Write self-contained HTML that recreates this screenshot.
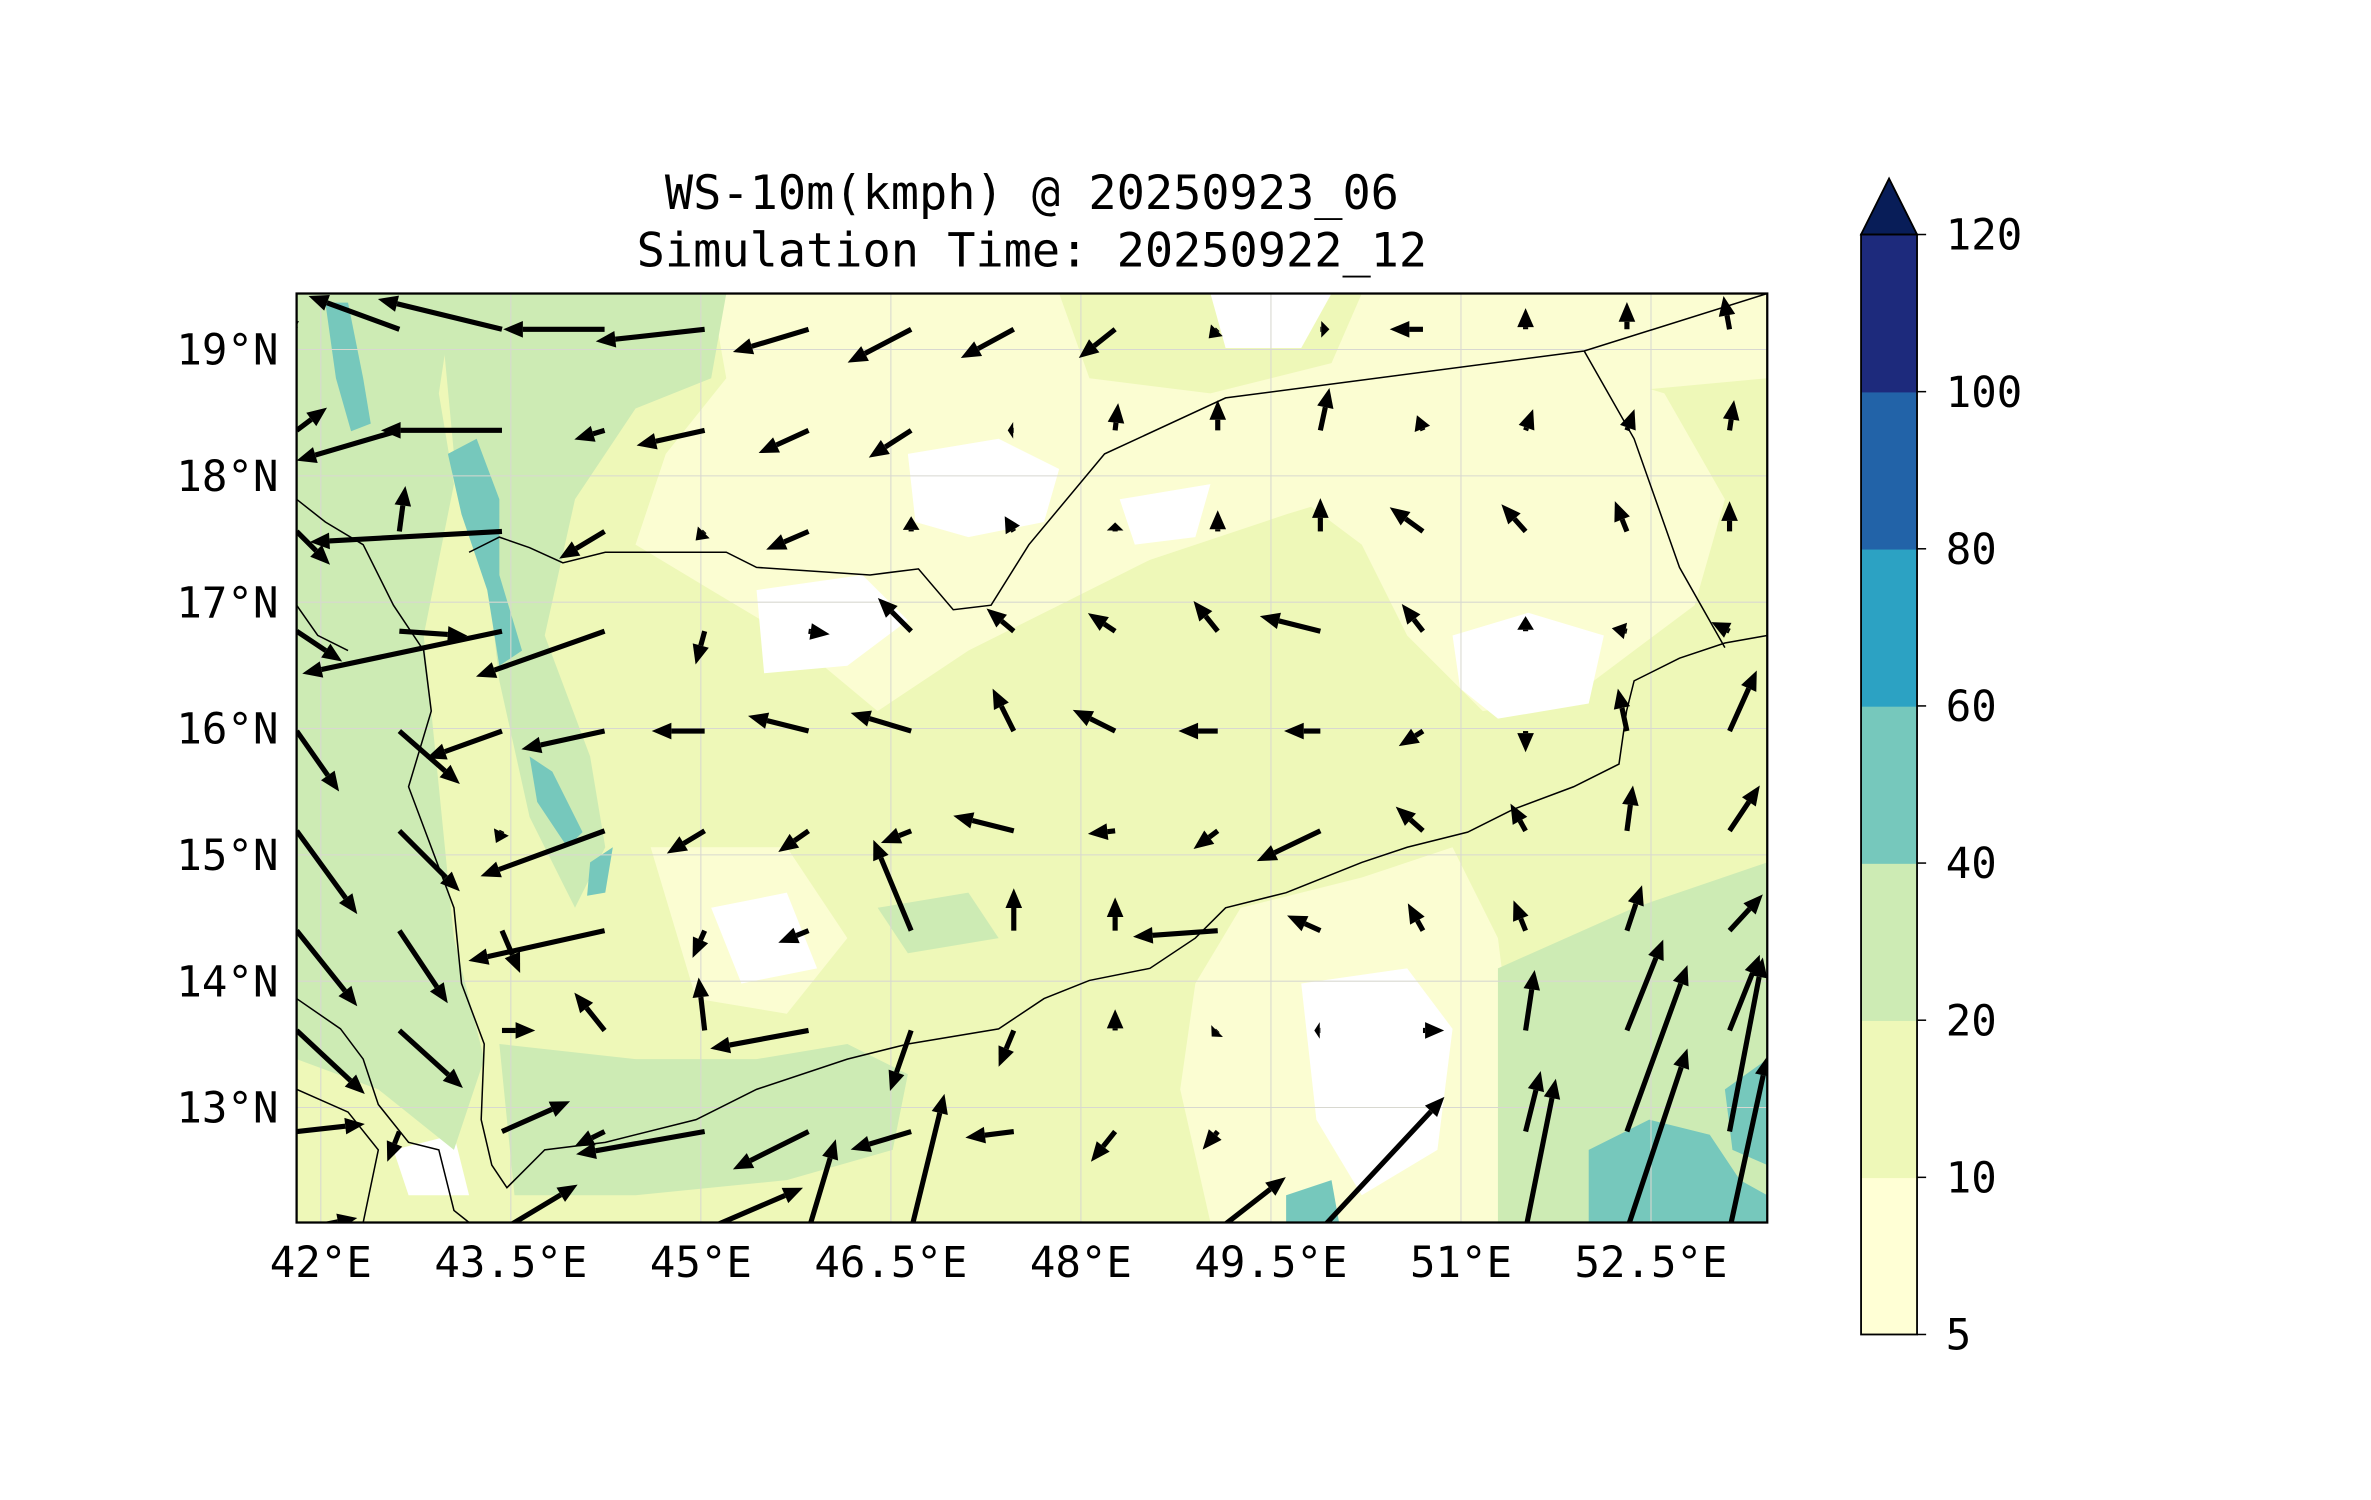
<!DOCTYPE html>
<html><head><meta charset="utf-8"><style>
html,body{margin:0;padding:0;background:#fff;}
svg{display:block;}
text{font-family:"DejaVu Sans Mono","Liberation Mono",monospace;fill:#000;}
</style></head><body>
<svg id="fig" width="2371" height="1500" viewBox="0 0 1567 991.4" xmlns="http://www.w3.org/2000/svg">
<defs><clipPath id="clip"><rect x="196" y="194" width="972" height="614"/></clipPath></defs>
<text x="682" y="138" font-size="31" text-anchor="middle">WS-10m(kmph) @ 20250923_06</text>
<text x="682" y="176" font-size="31" text-anchor="middle">Simulation Time: 20250922_12</text>
<g clip-path="url(#clip)">
 <rect x="196" y="194" width="972" height="614" fill="#fbfdd2"/>
 <g fill="#eef8b8">
  <path d="M196 194 L470 194 L480 250 L440 300 L420 360 L470 390 L520 420 L580 470 L640 430 L700 400 L760 370 L850 340 L980 300 L1060 260 L1168 250 L1168 808 L196 808 Z"/>
  <path d="M700 194 L900 194 L880 240 L800 260 L720 250 Z"/>
 </g>
 <g fill="#fbfdd2">
  <path d="M560 280 L700 260 L760 290 L740 340 L660 360 L600 380 L540 380 Z"/>
  <path d="M860 250 L1000 230 L1100 260 L1140 330 L1120 400 L1040 460 L980 470 L930 420 L900 360 L860 330 Z"/>
  <path d="M820 600 L900 580 L960 560 L990 620 L1000 700 L990 808 L800 808 L780 720 L790 650 Z"/>
  <path d="M430 560 L520 560 L560 620 L520 670 L460 660 Z"/>
 </g>
 <g fill="#ffffff">
  <path d="M600 300 L660 290 L700 310 L690 345 L640 355 L605 345 Z"/>
  <path d="M500 390 L570 380 L600 410 L560 440 L505 445 Z"/>
  <path d="M800 194 L880 194 L860 230 L810 230 Z"/>
  <path d="M960 420 L1010 405 L1060 420 L1050 465 L990 475 L965 455 Z"/>
  <path d="M860 650 L930 640 L960 680 L950 760 L900 790 L870 740 Z"/>
  <path d="M470 600 L520 590 L540 640 L490 650 Z"/>
  <path d="M740 330 L800 320 L790 355 L750 360 Z"/>
  <path d="M260 760 L300 750 L310 790 L270 790 Z"/>
 </g>
 <g fill="#cdebb4">
  <path d="M196 194 L300 194 L290 260 L300 320 L280 420 L290 520 L300 620 L320 700 L300 760 L250 720 L196 700 Z"/>
  <path d="M290 194 L480 194 L470 250 L420 270 L380 330 L360 420 L390 500 L400 560 L380 600 L350 540 L330 450 L320 360 L300 300 Z"/>
  <path d="M330 690 L420 700 L500 700 L560 690 L600 710 L590 760 L520 780 L420 790 L340 790 Z"/>
  <path d="M990 640 L1080 600 L1168 570 L1168 808 L990 808 Z"/>
  <path d="M580 600 L640 590 L660 620 L600 630 Z"/>
 </g>
 <g fill="#76c8bc">
  <path d="M215 200 L230 200 L240 250 L245 280 L232 285 L222 250 Z"/>
  <path d="M296 300 L315 290 L330 330 L330 380 L345 430 L330 440 L322 390 L305 340 Z"/>
  <path d="M350 500 L365 510 L385 550 L375 560 L355 530 Z"/>
  <path d="M390 570 L405 560 L400 590 L388 592 Z"/>
  <path d="M1050 760 L1090 740 L1130 750 L1150 780 L1168 790 L1168 808 L1050 808 Z"/>
  <path d="M1140 720 L1168 700 L1168 770 L1145 760 Z"/>
  <path d="M850 790 L880 780 L885 808 L850 808 Z"/>
 </g>
 <g id="gridlines" stroke="#d8d8d0" stroke-width="0.7" fill="none"></g>
 <g stroke="#000" stroke-width="1" fill="none">
  <path d="M310 365 L330 355 L350 362 L372 372 L400 365 L480 365 L500 375 L575 380 L607 376 L630 403 L655 400 L680 360 L730 300 L810 263 L1047 232 L1168 194"/>
  <path d="M1047 232 L1080 290 L1110 375 L1140 428"/>
  <path d="M196 330 L215 345 L240 360 L260 400 L280 430 L285 470 L270 520 L285 560 L300 600 L305 650 L320 690 L318 740 L325 770 L335 785 L360 760 L400 755 L460 740 L500 720 L560 700 L600 690 L660 680 L690 660 L720 648 L760 640 L790 620 L810 600 L850 590 L900 570 L930 560 L970 550 L1000 535 L1040 520 L1070 505 L1075 470 L1080 450 L1110 435 L1140 425 L1168 420"/>
  <path d="M196 660 L225 680 L240 700 L250 730 L270 755 L290 760 L300 800 L310 808"/>
  <path d="M196 720 L230 735 L250 760 L240 808"/>
  <path d="M196 400 L210 420 L230 430"/>
 </g>
 <g id="arrows"></g>
</g>
<rect x="196" y="194" width="972" height="614" fill="none" stroke="#000" stroke-width="1.5"/>
<g id="xticks"></g>
<g id="yticks"></g>
<g id="colorbar"></g>
</svg>
<script>
const xTickLons=[42,43.5,45,46.5,48,49.5,51,52.5];
const xTickLabels=["42°E","43.5°E","45°E","46.5°E","48°E","49.5°E","51°E","52.5°E"];
const yTickLats=[19,18,17,16,15,14,13];
const yTickLabels=["19°N","18°N","17°N","16°N","15°N","14°N","13°N"];
const cbLevels=[5,10,20,40,60,80,100,120];
const cbColors=["#ffffd5","#eef8b8","#cdebb4","#76c8bc","#2ca2c3","#2263a8","#1d2a7c"];
const gridLons=[41.81,42.62,43.43,44.24,45.03,45.85,46.66,47.47,48.27,49.08,49.89,50.70,51.51,52.31,53.12];
const gridLats=[19.16,18.36,17.56,16.77,15.98,15.19,14.40,13.61,12.81,12.03];
const windU=[
[-10,-60,-82,-67,-72,-50,-42,-35,-24,-6,6,-22,0,0,-4],
[20,-68,-80,-20,-45,-33,-28,-4,2,0,6,-4,5,5,3],
[22,4,-127,-30,-6,-28,0,-6,0,0,0,-22,-16,-8,0],
[30,45,-132,-85,-6,14,-22,-18,-18,-16,-40,-14,0,-10,-12],
[28,40,-50,-55,-35,-40,-40,-14,-28,-26,-24,-16,0,-6,18],
[40,40,-4,-82,-25,-20,-20,-40,-18,-16,-42,-18,-10,4,20],
[40,32,12,-90,-8,-20,-25,0,0,-56,-22,-10,-8,10,22],
[45,42,22,-20,-4,-65,-14,-10,0,-4,-4,14,6,24,20],
[45,-8,45,-20,-85,-50,-40,-32,-16,-10,0,0,10,40,22],
[40,20,50,0,65,18,22,0,0,45,82,0,20,40,25]];
const windV=[
[5,22,20,0,-8,-15,-22,-19,-19,-6,0,0,14,18,22],
[15,-20,0,-6,-10,-15,-18,0,18,20,28,10,14,14,20],
[-22,30,-7,-18,-6,-12,10,10,6,14,22,16,18,20,20],
[-20,-3,-28,-30,-22,-2,22,15,12,20,10,18,10,2,6],
[-40,-35,-18,-12,0,10,12,28,14,0,0,-10,-14,28,40],
[-55,-40,-8,-30,-15,-14,-8,10,-2,-12,-20,16,18,30,30],
[-50,-48,-28,-20,-18,-8,60,28,22,-4,10,18,20,30,24],
[-42,-38,0,25,35,-12,-40,-24,14,-4,0,0,40,60,50],
[5,-20,20,-10,-15,-25,-12,-4,-20,-12,0,0,40,110,115],
[8,0,30,0,28,60,90,0,0,35,88,0,100,120,115]];
const NS='http://www.w3.org/2000/svg';
const xOf=lon=>212+(lon-42)*83.73;
const yOf=lat=>732-(lat-13)*83.5;
function mk(tag,attrs,parent){const e=document.createElementNS(NS,tag);for(const k in attrs)e.setAttribute(k,attrs[k]);parent.appendChild(e);return e;}
const gl=document.getElementById('gridlines');
xTickLons.forEach(l=>{const e=mk('line',{x1:xOf(l),x2:xOf(l),y1:194,y2:808},gl);

});
yTickLats.forEach(l=>{const e=mk('line',{x1:196,x2:1168,y1:yOf(l),y2:yOf(l)},gl);

});
const xt=document.getElementById('xticks');
xTickLons.forEach((l,i)=>{const t=mk('text',{x:xOf(l),y:844,'font-size':28,'text-anchor':'middle'},xt);t.textContent=xTickLabels[i];

});
const yt=document.getElementById('yticks');
yTickLats.forEach((l,i)=>{const t=mk('text',{x:184,y:yOf(l)+10,'font-size':28,'text-anchor':'end'},yt);t.textContent=yTickLabels[i];

});
const ar=document.getElementById('arrows');
const S=1.0;
for(let r=0;r<gridLats.length;r++)for(let c=0;c<gridLons.length;c++){
 const x0=xOf(gridLons[c]),y0=yOf(gridLats[r]);const dx=windU[r][c]*S,dy=-windV[r][c]*S;
 const L=Math.hypot(dx,dy);if(L<1)continue;const ux=dx/L,uy=dy/L;
 const hl=Math.min(13,L*0.9),hw=5.5;const bx=x0+dx-ux*hl,by=y0+dy-uy*hl;
 const g=mk('g',{},ar);
 
 
 mk('line',{x1:x0,y1:y0,x2:bx,y2:by,stroke:'#000','stroke-width':3.4},g);
 mk('polygon',{points:`${x0+dx},${y0+dy} ${bx-uy*hw},${by+ux*hw} ${bx+uy*hw},${by-ux*hw}`,fill:'#000'},g);
}
const cb=document.getElementById('colorbar');
const cbX=1230,cbW=37,cbTop=155,cbBot=882;const step=(cbBot-cbTop)/(cbLevels.length-1);
const cbY=i=>cbBot-i*step;
for(let i=0;i<cbColors.length;i++){const e=mk('rect',{x:cbX,y:cbY(i+1),width:cbW,height:step+0.5,fill:cbColors[i]},cb);

}
const tri=mk('polygon',{points:`${cbX},${cbTop} ${cbX+cbW},${cbTop} ${cbX+cbW/2},118`,fill:'#081d58',stroke:'#000','stroke-width':1.2},cb);


const fr=mk('rect',{x:cbX,y:cbTop,width:cbW,height:cbBot-cbTop,fill:'none',stroke:'#000','stroke-width':1.2},cb);


cbLevels.forEach((v,i)=>{mk('line',{x1:cbX+cbW,x2:cbX+cbW+6,y1:cbY(i),y2:cbY(i),stroke:'#000','stroke-width':1},cb);
const t=mk('text',{x:1286,y:cbY(i)+10,'font-size':28},cb);t.textContent=v;

});
</script>
</body></html>
